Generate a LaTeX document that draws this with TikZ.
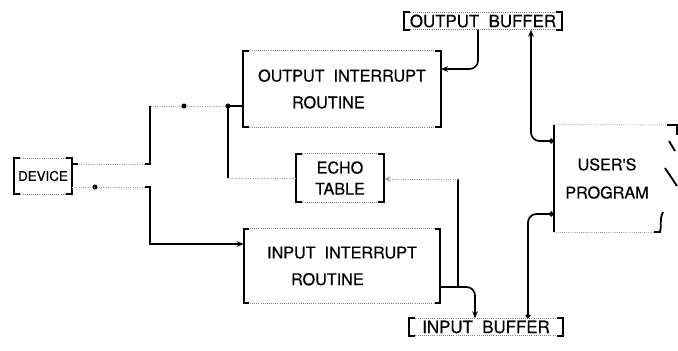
\documentclass[tikz,border=0pt]{standalone}
\usepackage{fontspec}
\setmainfont{TeX Gyre Heros}
\newfontfamily\lbl[FakeBold=0.6]{TeX Gyre Heros}
\usetikzlibrary{arrows.meta}

\tikzset{
  wire/.style={line width=1.2pt},
  faint/.style={densely dotted, line width=0.6pt, black!35},
  rim/.style={densely dotted, line width=0.5pt, black!50},
  side/.style={line width=1.3pt},
  blk/.style={inner sep=0pt, align=center, font=\lbl\fontsize{11.5}{15}\selectfont},
}

\begin{document}
\begin{tikzpicture}[x=0.025cm, y=-0.025cm, >={Stealth[length=5pt, width=4pt]}]
    \useasboundingbox (0,0) rectangle (678,350);

    % Boxes
    \node[blk, minimum width=1.43cm, minimum height=0.88cm, font=\lbl\fontsize{9.5}{11}\selectfont] (dev) at (43,176) {DEVICE};
    \node[blk, minimum width=4.93cm, minimum height=1.9cm, align=left, font=\lbl\fontsize{11.5}{19}\selectfont] (outr) at (342,89) {OUTPUT\ \ INTERRUPT\\\hspace*{0.85cm}ROUTINE};
    \node[blk, minimum width=2.18cm, minimum height=1.2cm] (echo) at (340,178) {ECHO\\TABLE};
    \node[blk, minimum width=4.9cm, minimum height=1.85cm, align=left, font=\lbl\fontsize{11.5}{19}\selectfont] (inr) at (342,266) {INPUT\ \ INTERRUPT\\\hspace*{0.6cm}ROUTINE};
    \node[blk, minimum width=2.65cm, minimum height=2.68cm, font=\lbl\fontsize{11.5}{20}\selectfont] (user) at (607,178.5) {USER'S\\PROGRAM};
    \node[blk, minimum width=3.93cm, minimum height=0.42cm, font=\lbl\fontsize{12}{14}\selectfont] (obuf) at (483,21) {OUTPUT\ \ BUFFER};
    \node[blk, minimum width=3.83cm, minimum height=0.42cm, font=\lbl\fontsize{12}{14}\selectfont] (ibuf) at (486,327) {INPUT\ \ BUFFER};

    % Bracket sides, faint tops
    \foreach \n in {dev,outr,echo,inr,obuf,ibuf} {
        \draw[rim] (\n.north west) -- (\n.north east) (\n.south west) -- (\n.south east);
        \draw[side] ([xshift=4pt]\n.north west) -- (\n.north west) -- (\n.south west) -- ([xshift=4pt]\n.south west);
        \draw[side] ([xshift=-4pt]\n.north east) -- (\n.north east) -- (\n.south east) -- ([xshift=-4pt]\n.south east);
    }
    \draw[rim] (user.north west) -- (670,125) (user.south west) -- (user.south east);
    \draw[side] (user.north west) -- (user.south west);
    \draw[side] (667,125) -- (677,125) -- (677,135);
    \draw[side] (669,141) -- (675,151);
    \draw[side] (665,168) -- (677,186);
    \draw[side] (663,212) .. controls (659,220) and (662,226) .. (660,232) -- (654,232);

    % Device side
    \draw[wire] (outr.west |- 0,106) -- (228,106);
    \draw[faint] (228,106) -- (150,106);
    \fill (184,106) circle (1.8pt);
    \fill (228,106) circle (1.8pt);
    \draw[wire] (150,106) -- (150,164) -- (145,164);
    \draw[faint] (145,164) -- (dev.east |- 0,164);
    \draw[wire] (dev.east |- 0,164) -- ++(6,0);
    \draw[faint] (echo.west) -- (228,178);
    \draw[wire] (228,178) -- (228,106);
    \fill (95,187) circle (1.8pt);
    \draw[faint] (dev.east |- 0,187) -- (145,187);
    \draw[wire, ->] (145,187) -- (150,187) -- (150,244) -- (inr.west |- 0,244);

    % Buffers
    \draw[wire, ->, rounded corners=6pt] (obuf.south -| 478,0) -- (478,69) -- (outr.east |- 0,69);
    \draw[wire, ->, rounded corners=6pt] (inr.east |- 0,287) -- (475,287) -- (ibuf.north -| 475,0);
    \draw[wire] (458,287) -- (458,179);
    \draw[faint, ->] (458,179) -- (echo.east |- 0,179);
    \draw[wire, {Circle[length=3.5pt]}->, rounded corners=6pt] (user.west |- 0,141) -- (531,141) -- (obuf.south -| 531,0);
    \draw[wire, {Circle[length=3.5pt]}-{Circle[length=3.5pt]}, rounded corners=6pt] (ibuf.north -| 528,0) -- (528,214) -- (user.west |- 0,214);
\end{tikzpicture}
\end{document}
